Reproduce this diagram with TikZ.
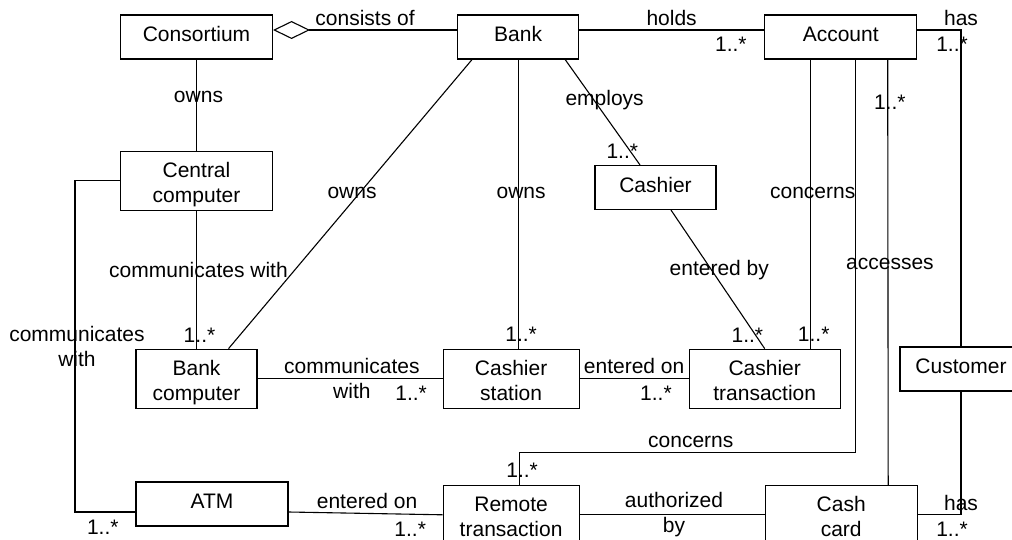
\documentclass[tikz,border=0pt]{standalone}
\usepackage{fontspec}
\setmainfont{Liberation Sans}
\usepackage{tikz}
\usetikzlibrary{
arrows.meta,
positioning
}

\begin{document}
\begin{tikzpicture}[
x=0.5pt,y=-0.5pt,
font=\fontsize{10.5}{12.5}\selectfont,
box/.style={
draw,
line width=0.55pt,
minimum width=76pt,
minimum height=22pt,
text height=7.6pt,
text depth=2.9pt,
align=center
},
two/.style={minimum height=29.5pt,inner ysep=0pt,text height=24pt,text depth=2pt},
slim/.style={minimum width=60.5pt},
link/.style={line width=0.55pt},
agg/.style={{Diamond[open,length=18.5pt,width=9pt]}-,line width=0.55pt},
lab/.style={inner sep=0pt,align=center}
]

\useasboundingbox (0,0) rectangle (1012,540);

\node[box] (consortium) at (196.5,37) {Consortium};

\node[box,slim,right=92pt of consortium] (bank) {Bank};

\node[box,right=92.5pt of bank] (account) {Account};

\node[box,two,below=45.5pt of consortium] (central) {
Central\\
computer
};

\node[box,slim] (cashier) at (655.5,187.5) {Cashier};

\node[box,slim,two,below=69pt of central] (bankcomp) {
Bank\\
computer
};

\node[box,two,minimum width=68pt,right=92.5pt of bankcomp] (station) {
Cashier\\
station
};

\node[box,two,minimum width=75.5pt,right=54.5pt of station] (ctrans) {
Cashier\\
transaction
};

\node[box,slim,minimum width=61pt] (customer) at (961,369) {Customer};

\node[box] (atm) at (212,504) {ATM};

\node[box,two,minimum width=68pt,below=38pt of station] (remote) {
Remote\\
transaction
};

\node[box,two,right=92.5pt of remote] (cashcard) {
Cash\\
card
};

% top row
\draw[agg] ([yshift=3.5pt]consortium.east) -- ([yshift=3.5pt]bank.west)
node[lab,midway,above=2pt] {consists of};
\draw[link] ([yshift=3.5pt]bank.east) -- ([yshift=3.5pt]account.west)
node[lab,midway,above=2pt] {holds}
node[lab,pos=0.82,below=3.5pt] {1..*};
\draw[link] ([yshift=3.5pt]account.east) -| (customer.north)
node[lab,pos=0.5,above=2pt] {has}
node[lab,pos=0.5,below=3.5pt,xshift=-4.5pt] {1..*};

% left column
\draw[link] (consortium) -- (central)
node[lab,pos=0.41,xshift=1pt] {owns};
\draw[link] (central) -- (bankcomp)
node[lab,pos=0.43,xshift=1pt] {communicates with}
node[lab,pos=0.9,xshift=1.5pt] {1..*};
\draw[link] (central.west) -- ++(-45,0) |- ([yshift=-4pt]atm.west)
node[lab,pos=0.25,xshift=1pt] {communicates\\with}
node[lab,pos=0.73,below=3.5pt] {1..*};

% from bank
\draw[link] ([xshift=7.5pt]bank.south west) -- ([xshift=16pt]bankcomp.north)
node[lab,pos=0.46,xshift=-4pt] {owns};
\draw[link] (bank.south) -- (bank.south |- station.north)
node[lab,pos=0.46,xshift=1.5pt] {owns}
node[lab,pos=0.95,xshift=1.5pt] {1..*};
\draw[link] ([xshift=-7pt]bank.south east) -- ([xshift=-7.75pt]cashier.north)
node[lab,pos=0.38,xshift=5.5pt] {employs}
node[lab,pos=0.87,xshift=-4pt] {1..*};
\draw[link] ([xshift=7.75pt]cashier.south) -- (ctrans.north)
node[lab,pos=0.43,xshift=4pt] {entered by}
node[lab,pos=0.9,xshift=-4pt] {1..*};

% from account
\draw[link] ([xshift=-15pt]account.south) -- ([xshift=-15pt]account.south |- ctrans.north)
node[lab,pos=0.46,xshift=1pt] {concerns}
node[lab,pos=0.95,xshift=1.5pt] {1..*};
\draw[link] ([xshift=7.5pt]account.south) -- ++(0,393) -| ([xshift=4pt]remote.north)
node[lab,pos=0.245,above=2pt] {concerns}
node[lab,pos=0.77,xshift=1.5pt] {1..*};
\draw[link] ([xshift=23.5pt]account.south) -- ([xshift=23.5pt]cashcard.north)
node[lab,pos=0.1,xshift=1pt] {1..*}
node[lab,pos=0.48,xshift=1pt] {accesses};
\draw[link] (customer.south) |- (cashcard.east)
node[lab,pos=0.5,above=2pt] {has}
node[lab,pos=0.5,below=3.5pt,xshift=-4.5pt] {1..*};

% middle and bottom rows
\draw[link] (bankcomp) -- (station)
node[lab,pos=0.51] {communicates\\with}
node[lab,pos=0.83,below=3.5pt] {1..*};
\draw[link] (station) -- (ctrans)
node[lab,midway,above=2pt] {entered on}
node[lab,pos=0.7,below=3.5pt] {1..*};
\draw[link] ([yshift=-4pt]atm.east) -- (remote.west)
node[lab,pos=0.51,above=2pt] {entered on}
node[lab,pos=0.79,below=3.5pt] {1..*};
\draw[link] (remote) -- (cashcard)
node[lab,pos=0.51] {authorized\\by};

\end{tikzpicture}
\end{document}
